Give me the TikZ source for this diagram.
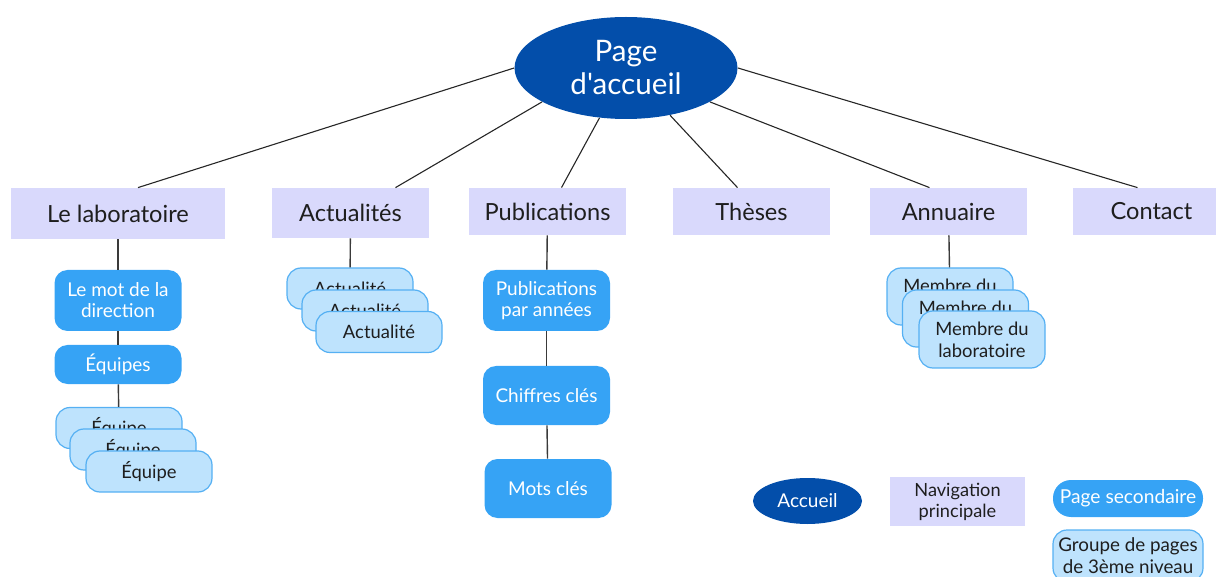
\documentclass[tikz,border=0pt]{standalone}
\usepackage{fontspec}
\setmainfont{Lato}[Ligatures=TeXOff]
\usepackage{tikz}
\usetikzlibrary{shapes.geometric}

\definecolor{accueilbleu}{HTML}{034EAA}
\definecolor{navfond}{HTML}{D9D9FC}
\definecolor{secbleu}{HTML}{36A3F5}
\definecolor{grpfond}{HTML}{BEE3FD}
\definecolor{grptrait}{HTML}{55B0F3}
\definecolor{texte}{HTML}{1E1E1E}
\definecolor{tige}{HTML}{3A3A3A}

\tikzset{
  accueil/.style={ellipse, fill=accueilbleu, text=white, inner sep=0pt, align=center},
  navbox/.style={fill=navfond, text=texte, minimum width=78.5pt, minimum height=23.5pt,
    inner sep=0pt, align=center, font=\fontsize{11.8}{13.5}\selectfont},
  secbox/.style={fill=secbleu, text=white, rounded corners=6.5pt, minimum width=63.5pt,
    minimum height=29.5pt, inner sep=0pt, align=center, font=\fontsize{9.5}{10.5}\selectfont},
  grpbox/.style={fill=grpfond, draw=grptrait, line width=0.6pt, rounded corners=7pt,
    minimum width=63pt, minimum height=20.5pt, inner sep=0pt, align=center, text=texte,
    font=\fontsize{9.2}{11}\selectfont},
  branche/.style={draw=black!85, line width=0.55pt},
  tigebox/.style={draw=tige, line width=0.7pt}
}

\begin{document}
\begin{tikzpicture}[x=0.5pt, y=-0.5pt]
  \useasboundingbox (0,0) rectangle (1216,577);

  % racine
  \node[accueil, minimum width=111.5pt, minimum height=51pt, font=\fontsize{14.8}{16.5}\selectfont]
    (root) at (626,68) {Page\\d'accueil};

  % navigation principale
  \node[navbox, minimum width=107pt, minimum height=25.5pt] (labo) at (118,213.5) {Le laboratoire};
  \node[navbox, minimum height=25pt] (actu) at (350.5,213) {Actualités};
  \node[navbox] (pub) at (547.5,211.5) {Publications};
  \node[navbox] (theses) at (751.5,211.5) {Thèses};
  \node[navbox] (annu) at (948.5,211.5) {Annuaire};
  \node[navbox] (contact) at (1151.5,211.5) {Contact};

  % le laboratoire
  \node[secbox, minimum height=30.5pt] (mot) at (118,300.5) {Le mot de la\\direction};
  \node[secbox, minimum height=19.5pt] (equipes) at (118,364.5) {Équipes};
  \node[grpbox] (eq1) at (119,428) {Équipe};
  \node[grpbox] (eq2) at (133,449.5) {Équipe};
  \node[grpbox] (eq3) at (149,471.5) {Équipe};

  % actualites
  \node[grpbox] (ac1) at (350,288.5) {Actualité};
  \node[grpbox] (ac2) at (365,310.5) {Actualité};
  \node[grpbox] (ac3) at (379,332) {Actualité};

  % publications
  \node[secbox, minimum height=30.5pt] (pubannee) at (546.5,300.5) {Publications\\par années};
  \node[secbox] (chiffres) at (546.5,395.5) {Chiffres clés};
  \node[secbox] (motscles) at (548,488.5) {Mots clés};

  % annuaire
  \node[grpbox, minimum height=28.5pt] (mb1) at (950,296.5) {Membre du\\laboratoire};
  \node[grpbox, minimum height=28.5pt] (mb2) at (965.5,318.5) {Membre du\\laboratoire};
  \node[grpbox, minimum height=28.5pt] (mb3) at (982,339.5) {Membre du\\laboratoire};

  % legende
  \node[accueil, minimum width=54.5pt, minimum height=23pt, font=\fontsize{9.5}{11}\selectfont]
    (legacc) at (807.5,501) {Accueil};
  \node[navbox, minimum width=67.5pt, minimum height=24.5pt, font=\fontsize{9.1}{10.5}\selectfont]
    (legnav) at (957.5,501.5) {Navigation\\principale};
  \node[secbox, minimum width=75pt, minimum height=18.5pt, rounded corners=9pt,
    font=\fontsize{9.6}{10.5}\selectfont] (legsec) at (1128,498.5) {Page secondaire};
  \node[grpbox, minimum width=75pt, minimum height=26pt, font=\fontsize{9.4}{11}\selectfont]
    (leggrp) at (1128,556) {Groupe de pages\\de 3ème niveau};

  \path[branche] (root.180) edge ([xshift=10pt]labo.north)
  (root.-158) edge ([xshift=22.5pt]actu.north)
  (root.-118) edge ([xshift=7pt]pub.north)
  (root.-47) edge ([xshift=-7pt]theses.north)
  (root.-22) edge ([xshift=-9.5pt]annu.north)
  (root.0) edge ([xshift=-7pt]contact.north);

  \path[tigebox] (labo) edge (mot)
  (mot) edge (equipes)
  (equipes) edge (eq1)
  (actu) edge (ac1)
  (pub) edge (pubannee)
  (pubannee) edge (chiffres)
  (chiffres) edge (motscles)
  (annu) edge (mb1);
\end{tikzpicture}
\end{document}
